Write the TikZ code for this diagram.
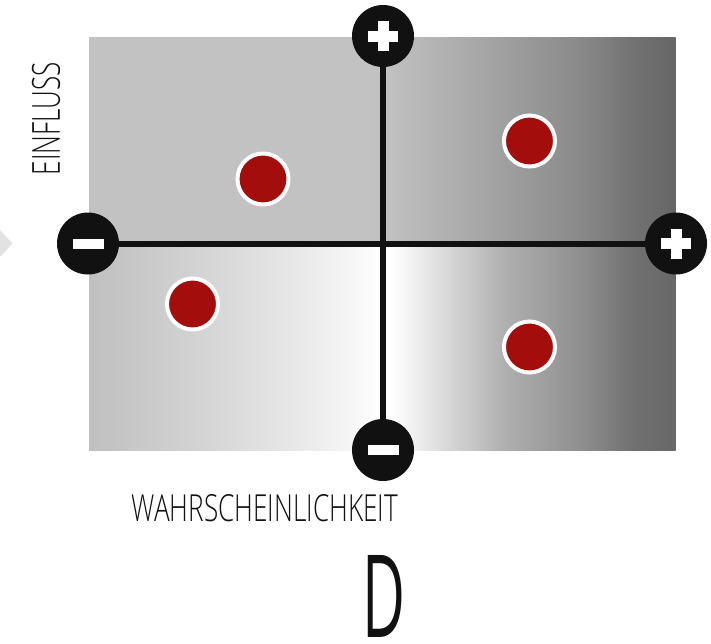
\documentclass[tikz,border=0pt]{standalone}
\usepackage{fontspec}
\setmainfont{Open Sans Light}
\newfontfamily\regfont{Open Sans}
\usepackage{graphicx}
\usetikzlibrary{calc}
\definecolor{ink}{HTML}{111111}
\definecolor{dotred}{HTML}{A30D0B}
\definecolor{tlgray}{HTML}{C2C2C2}
\definecolor{gA}{HTML}{B0B0B0}
\definecolor{gB}{HTML}{A0A0A0}
\definecolor{gC}{HTML}{8A8A8A}
\definecolor{gD}{HTML}{727272}
\definecolor{gE}{HTML}{666666}
\definecolor{bA}{HTML}{D8D8D8}
\definecolor{bB}{HTML}{B0B0B0}
\definecolor{bC}{HTML}{909090}
\definecolor{bD}{HTML}{707070}
\definecolor{bE}{HTML}{686868}
\definecolor{lA}{HTML}{C0C0C0}
\definecolor{lB}{HTML}{C6C6C6}
\definecolor{lC}{HTML}{D4D4D4}
\definecolor{lD}{HTML}{E4E4E4}
\definecolor{lE}{HTML}{F6F6F6}
\definecolor{arrowgray}{HTML}{E2E2E2}
\pgfdeclarehorizontalshading{trshade}{100bp}{color(0bp)=(tlgray); color(25bp)=(tlgray); color(36bp)=(gA); color(45.5bp)=(gB); color(58.4bp)=(gC); color(67.9bp)=(gD); color(75bp)=(gE); color(100bp)=(gE)}
\pgfdeclarehorizontalshading{brshade}{100bp}{color(0bp)=(white); color(26.5bp)=(white); color(36bp)=(bA); color(45.5bp)=(bB); color(58.4bp)=(bC); color(67.9bp)=(bD); color(75bp)=(bE); color(100bp)=(bE)}
\pgfdeclarehorizontalshading{blshade}{100bp}{color(0bp)=(lA); color(25bp)=(lA); color(31.5bp)=(lB); color(44.3bp)=(lC); color(57bp)=(lD); color(70bp)=(lE); color(74.5bp)=(white); color(100bp)=(white)}
\begin{document}
\begin{tikzpicture}[x=1pt,y=-1pt,
  endcirc/.style={circle,fill=ink,minimum size=62pt,inner sep=0pt},
  riskdot/.style={circle,fill=dotred,draw=white,line width=4pt,minimum size=51pt,inner sep=0pt},
  axisline/.style={draw=ink,line width=6pt},
  signbar/.style={fill=white},
  lbl/.style={inner sep=0pt,text=ink}]
\useasboundingbox (0,0) rectangle (711,643);
% faint arrow tip at left edge
\fill[arrowgray] (0,230) -- (12.5,243.5) -- (0,257) -- cycle;
% quadrant backgrounds
\fill[tlgray] (89,37) rectangle (383,243.5);
\shade[shading=trshade] (383,37) rectangle (675.5,243.5);
\shade[shading=blshade] (89,243.5) rectangle (383,450);
\shade[shading=brshade] (383,243.5) rectangle (675.5,450);
% axis end circles
\node[endcirc] (top) at (383,36) {};
\node[endcirc] (bot) at (383,450) {};
\node[endcirc] (lft) at (88,243.5) {};
\node[endcirc] (rgt) at (676,243.5) {};
% axes
\draw[axisline] (top) -- (bot);
\draw[axisline] (lft) -- (rgt);
% plus signs
\fill[signbar] ($(top)+(-15,-5.5)$) rectangle ($(top)+(15,5.5)$);
\fill[signbar] ($(top)+(-5.5,-15)$) rectangle ($(top)+(5.5,15)$);
\fill[signbar] ($(rgt)+(-15,-5.5)$) rectangle ($(rgt)+(15,5.5)$);
\fill[signbar] ($(rgt)+(-5.5,-15)$) rectangle ($(rgt)+(5.5,15)$);
% minus signs
\fill[signbar] ($(lft)+(-15.5,-5)$) rectangle ($(lft)+(15.5,5)$);
\fill[signbar] ($(bot)+(-15.5,-5)$) rectangle ($(bot)+(15.5,5)$);
% risk dots
\node[riskdot] (d1) at (263,179) {};
\node[riskdot] (d2) at (529.5,141) {};
\node[riskdot] (d3) at (192.5,304) {};
\node[riskdot] (d4) at (529.5,347) {};
% labels
\node[lbl,rotate=90] (ylab) at (46,118.5) {\resizebox{113pt}{28pt}{EINFLUSS}};
\node[lbl] (xlab) at (265,508.5) {\resizebox{266pt}{27pt}{WAHRSCHEINLICHKEIT}};
\node[lbl] (dlab) at (383.5,596) {\resizebox{43pt}{82pt}{\regfont D}};
\end{tikzpicture}
\end{document}
